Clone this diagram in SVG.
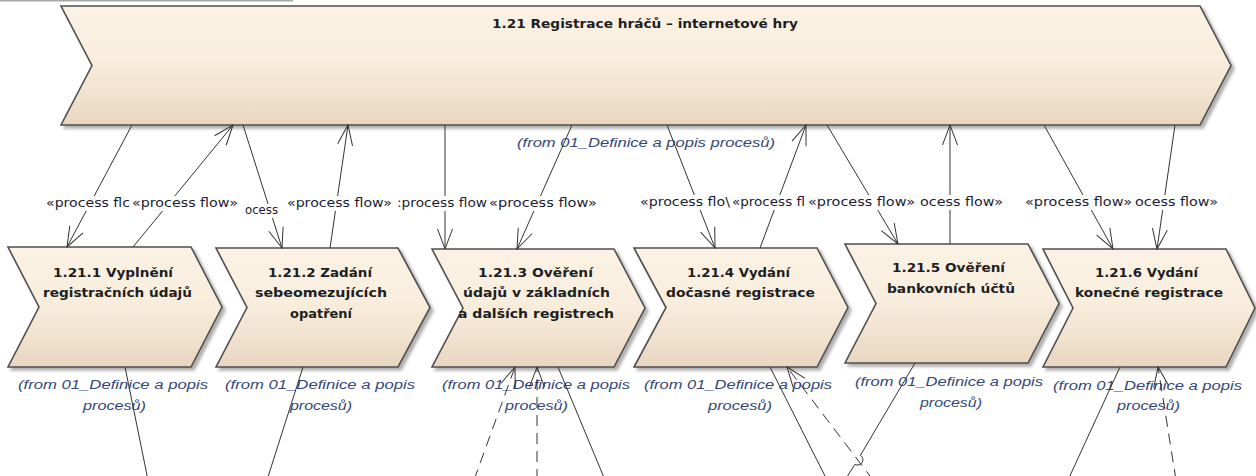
<svg xmlns="http://www.w3.org/2000/svg" width="1256" height="476" viewBox="0 0 1256 476">
<style>
.shape{fill:url(#fillGrad);stroke:#4f4f4f;stroke-width:1.6;filter:url(#shadow)}
.title{font-family:"DejaVu Sans","Liberation Sans",sans-serif;font-weight:bold;font-size:13px;fill:#1e1e1e;text-anchor:middle}
.from{font-family:"Liberation Sans",Arial,sans-serif;font-style:italic;font-size:12.5px;fill:#34467a;text-anchor:middle}
.lbl{font-family:"DejaVu Sans","Liberation Sans",sans-serif;font-size:12px;fill:#1c1c34}
.conn{fill:none;stroke:#333;stroke-width:1}
.dash{stroke-dasharray:11,7}
.bg{fill:#fff}
</style>
<defs>
<linearGradient id="fillGrad" x1="0" y1="0" x2="0" y2="1">
<stop offset="0" stop-color="#fbf2e5"/>
<stop offset="0.45" stop-color="#f9eedd"/>
<stop offset="0.75" stop-color="#f0e2ce"/>
<stop offset="1" stop-color="#e8d6bf"/>
</linearGradient>
<filter id="shadow" x="-5%" y="-5%" width="115%" height="120%">
<feDropShadow dx="3" dy="3" stdDeviation="1.5" flood-color="#7a7a7a" flood-opacity="0.6"/>
</filter>
<marker id="arrow" markerUnits="userSpaceOnUse" viewBox="-21 -9 22 18" markerWidth="22" markerHeight="18" refX="0" refY="0" orient="auto">
<path d="M-20,-7.5 L0,0 L-20,7.5" fill="none" stroke="#333" stroke-width="1"/>
</marker>
</defs>
<rect x="0" y="0" width="1256" height="476" fill="#fff"/>
<line x1="0" y1="0.5" x2="293" y2="0.5" stroke="#a8a8a8" stroke-width="2"/>

<g id="node-1-21">
<path class="shape" d="M61,6 H1200 L1231,65.5 L1200,125 H61 L92,65.5 Z"/>
<text class="title" x="645" y="28" textLength="306" lengthAdjust="spacingAndGlyphs">1.21 Registrace hráčů – internetové hry</text>
<text class="from" x="646" y="147" textLength="258" lengthAdjust="spacingAndGlyphs">(from 01_Definice a popis procesů)</text>
</g>

<g id="node-1-21-1">
<path class="shape" d="M8,247 H191 L222,307 L191,367 H8 L39,307 Z"/>
<text class="title" x="113" y="277" textLength="120" lengthAdjust="spacingAndGlyphs">1.21.1 Vyplnění</text>
<text class="title" x="117.5" y="297" textLength="149" lengthAdjust="spacingAndGlyphs">registračních údajů</text>
<text class="from" x="113" y="389" textLength="190" lengthAdjust="spacingAndGlyphs">(from 01_Definice a popis</text>
<text class="from" x="114.5" y="410" textLength="63" lengthAdjust="spacingAndGlyphs">procesů)</text>
</g>

<g id="node-1-21-2">
<path class="shape" d="M216,248 H398 L430,307.5 L398,367 H216 L247,307.5 Z"/>
<text class="title" x="320" y="277" textLength="104" lengthAdjust="spacingAndGlyphs">1.21.2 Zadání</text>
<text class="title" x="321" y="297" textLength="132" lengthAdjust="spacingAndGlyphs">sebeomezujících</text>
<text class="title" x="321" y="318" textLength="62" lengthAdjust="spacingAndGlyphs">opatření</text>
<text class="from" x="320" y="389" textLength="190" lengthAdjust="spacingAndGlyphs">(from 01_Definice a popis</text>
<text class="from" x="321" y="410" textLength="62" lengthAdjust="spacingAndGlyphs">procesů)</text>
</g>

<g id="node-1-21-3">
<path class="shape" d="M432,249 H614 L645,308 L614,367 H432 L463,308 Z"/>
<text class="title" x="535.5" y="277" textLength="115" lengthAdjust="spacingAndGlyphs">1.21.3 Ověření</text>
<text class="title" x="536.5" y="297" textLength="147" lengthAdjust="spacingAndGlyphs">údajů v základních</text>
<text class="title" x="536" y="318" textLength="156" lengthAdjust="spacingAndGlyphs">a dalších registrech</text>
<text class="from" x="536" y="389" textLength="188" lengthAdjust="spacingAndGlyphs">(from 01_Definice a popis</text>
<text class="from" x="536.5" y="410" textLength="63" lengthAdjust="spacingAndGlyphs">procesů)</text>
</g>

<g id="node-1-21-4">
<path class="shape" d="M634,248 H817 L848,307.5 L817,367 H634 L666,307.5 Z"/>
<text class="title" x="738.5" y="277" textLength="103" lengthAdjust="spacingAndGlyphs">1.21.4 Vydání</text>
<text class="title" x="740.5" y="297" textLength="149" lengthAdjust="spacingAndGlyphs">dočasné registrace</text>
<text class="from" x="738" y="389" textLength="188" lengthAdjust="spacingAndGlyphs">(from 01_Definice a popis</text>
<text class="from" x="740" y="410" textLength="64" lengthAdjust="spacingAndGlyphs">procesů)</text>
</g>

<g id="node-1-21-5">
<path class="shape" d="M845,244 H1028 L1059,303.5 L1028,363 H845 L876,303.5 Z"/>
<text class="title" x="948.5" y="272" textLength="113" lengthAdjust="spacingAndGlyphs">1.21.5 Ověření</text>
<text class="title" x="951" y="293" textLength="128" lengthAdjust="spacingAndGlyphs">bankovních účtů</text>
<text class="from" x="949" y="386" textLength="188" lengthAdjust="spacingAndGlyphs">(from 01_Definice a popis</text>
<text class="from" x="951" y="407" textLength="62" lengthAdjust="spacingAndGlyphs">procesů)</text>
</g>

<g id="node-1-21-6">
<path class="shape" d="M1043,249 H1226 L1255,308 L1226,367 H1043 L1073,308 Z"/>
<text class="title" x="1146.5" y="277" textLength="103" lengthAdjust="spacingAndGlyphs">1.21.6 Vydání</text>
<text class="title" x="1149" y="297" textLength="148" lengthAdjust="spacingAndGlyphs">konečné registrace</text>
<text class="from" x="1147.5" y="390" textLength="189" lengthAdjust="spacingAndGlyphs">(from 01_Definice a popis</text>
<text class="from" x="1148.5" y="410" textLength="63" lengthAdjust="spacingAndGlyphs">procesů)</text>
</g>

<g id="connectors">
<path class="conn" marker-end="url(#arrow)" d="M132,125 L67,247"/>
<path class="conn" marker-end="url(#arrow)" d="M133,247 L233,125"/>
<path class="conn" marker-end="url(#arrow)" d="M243,125 L282,248"/>
<path class="conn" marker-end="url(#arrow)" d="M330,248 L348,125"/>
<path class="conn" marker-end="url(#arrow)" d="M445,125 L445,249"/>
<path class="conn" marker-end="url(#arrow)" d="M572,125 L517,249"/>
<path class="conn" marker-end="url(#arrow)" d="M667,125 L715,248"/>
<path class="conn" marker-end="url(#arrow)" d="M760,248 L806,125"/>
<path class="conn" marker-end="url(#arrow)" d="M827,125 L898,244"/>
<path class="conn" marker-end="url(#arrow)" d="M950,244 L950,125"/>
<path class="conn" marker-end="url(#arrow)" d="M1044,125 L1113,249"/>
<path class="conn" marker-end="url(#arrow)" d="M1175,125 L1157,249"/>

<path class="conn" d="M125,367 L148,480"/>
<path class="conn" d="M303,367 L267,480"/>
<path class="conn dash" marker-end="url(#arrow)" d="M474,480 L515,367"/>
<path class="conn dash" marker-end="url(#arrow)" d="M537,480 L537,367"/>
<path class="conn" d="M558,367 L605,480"/>
<path class="conn" d="M770,367 L827,480"/>
<path class="conn dash" marker-end="url(#arrow)" d="M873,480 L787,367"/>
<path class="conn" d="M915,363 L860.4,455.3 A5.2,5.2 0 0 1 855,464.3 L845,480"/>
<path class="conn" d="M1120,367 L1068,480"/>
<path class="conn dash" marker-end="url(#arrow)" d="M1176,480 L1158,367"/>

<rect class="bg" x="216" y="204" width="66" height="14"/>
<text class="lbl" x="245" y="214" textLength="33" lengthAdjust="spacingAndGlyphs">ocess</text>
<rect class="bg" x="44" y="196" width="196" height="15"/>
<rect class="bg" x="285" y="196" width="315" height="15"/>
<rect class="bg" x="638" y="195" width="368" height="15"/>
<rect class="bg" x="1023" y="195" width="197" height="15"/>
<text class="lbl" x="46" y="207" textLength="84" lengthAdjust="spacingAndGlyphs">«process flc</text>
<text class="lbl" x="132" y="207" textLength="106" lengthAdjust="spacingAndGlyphs">«process flow»</text>
<text class="lbl" x="287" y="207" textLength="105" lengthAdjust="spacingAndGlyphs">«process flow»</text>
<text class="lbl" x="397" y="207" textLength="90" lengthAdjust="spacingAndGlyphs">:process flow</text>
<text class="lbl" x="489" y="207" textLength="108" lengthAdjust="spacingAndGlyphs">«process flow»</text>
<text class="lbl" x="640" y="206" textLength="90" lengthAdjust="spacingAndGlyphs">«process flo\</text>
<text class="lbl" x="732" y="206" textLength="73" lengthAdjust="spacingAndGlyphs">«process fl</text>
<text class="lbl" x="808" y="206" textLength="107" lengthAdjust="spacingAndGlyphs">«process flow»</text>
<text class="lbl" x="920" y="206" textLength="83" lengthAdjust="spacingAndGlyphs">ocess flow»</text>
<text class="lbl" x="1025" y="206" textLength="107" lengthAdjust="spacingAndGlyphs">«process flow»</text>
<text class="lbl" x="1135" y="206" textLength="83" lengthAdjust="spacingAndGlyphs">ocess flow»</text>
</g>
</svg>
